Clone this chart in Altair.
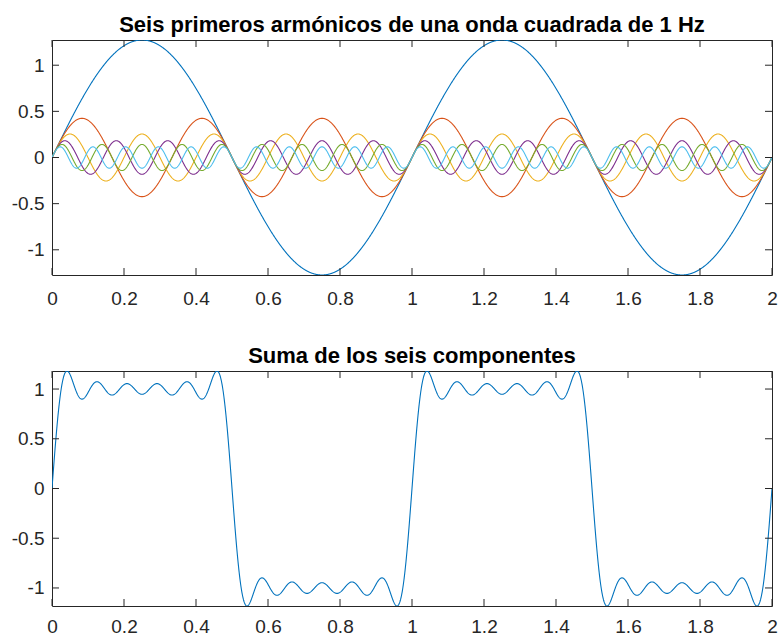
import numpy as np
import pandas as pd
import altair as alt

# Square wave of 1 Hz: first six odd harmonics (4/pi) * sin(2*pi*n*f*t) / n
freq_hz = 1.0
harmonic_orders = [1, 3, 5, 7, 9, 11]
harmonic_keys = ["h01", "h03", "h05", "h07", "h09", "h11"]
harmonic_colors = ["#0072BD", "#D95319", "#EDB120", "#7E2F8E", "#77AC30", "#4DBEEE"]

x_ticks = [0, 0.2, 0.4, 0.6, 0.8, 1, 1.2, 1.4, 1.6, 1.8, 2]
y_ticks = [-1, -0.5, 0, 0.5, 1]

title_top = "Seis primeros armónicos de una onda cuadrada de 1 Hz"
title_bottom = "Suma de los seis componentes"

t = np.linspace(0, 2, 2401)
rows = []
total = np.zeros_like(t)
for n, key in zip(harmonic_orders, harmonic_keys):
    comp = 4 / np.pi * np.sin(2 * np.pi * n * freq_hz * t) / n
    total += comp
    rows.append(pd.DataFrame({"t": t, "v": comp, "h": key}))
harm_df = pd.concat(rows, ignore_index=True)
sum_df = pd.DataFrame({"t": t, "v": total})

amp = 4 / np.pi
top_domain = [-amp, amp]
bot_domain = [float(total.min()), float(total.max())]

W, H = 720, 235
TICK = 7
INK = "#262626"
FONT = "Liberation Sans"

xt_df = pd.DataFrame({"v": x_ticks})
yt_df = pd.DataFrame({"v": y_ticks})

y_axis = alt.Axis(values=y_ticks, labelExpr="'' + datum.value", labelFlush=False)


def panel(line_layer, ydom, title, xpad):
    xs = alt.Scale(domain=[0, 2], nice=False, zero=False)
    ys = alt.Scale(domain=ydom, nice=False, zero=False)
    x_axis = alt.Axis(values=x_ticks, labelExpr="'' + datum.value",
                      labelPadding=xpad, labelFlush=False)
    rule = dict(color=INK, strokeWidth=1)
    X = lambda f: alt.X(f, scale=xs, title=None, axis=x_axis)
    Y = lambda f: alt.Y(f, scale=ys, title=None, axis=y_axis)
    left = alt.Chart(yt_df).mark_rule(**rule).encode(
        y=Y("v:Q"), x=alt.value(0), x2=alt.value(TICK))
    right = alt.Chart(yt_df).mark_rule(**rule).encode(
        y=Y("v:Q"), x=alt.value(W - TICK), x2=alt.value(W))
    top = alt.Chart(xt_df).mark_rule(**rule).encode(
        x=X("v:Q"), y=alt.value(0), y2=alt.value(TICK))
    bottom = alt.Chart(xt_df).mark_rule(**rule).encode(
        x=X("v:Q"), y=alt.value(H - TICK), y2=alt.value(H))
    lines = line_layer.encode(x=X("t:Q"), y=Y("v:Q"))
    return alt.layer(lines, left, right, top, bottom).properties(
        width=W, height=H,
        title=alt.TitleParams(title, font=FONT, fontSize=22, fontWeight="bold",
                              color="#000000", offset=3),
    )


top_lines = alt.Chart(harm_df).mark_line(strokeWidth=1.1, clip=True).encode(
    color=alt.Color("h:N", scale=alt.Scale(domain=harmonic_keys, range=harmonic_colors),
                    legend=None),
    order=alt.Order("t:Q"),
)
bot_lines = alt.Chart(sum_df).mark_line(strokeWidth=1.1, clip=True, color="#0072BD")

chart = alt.vconcat(
    panel(top_lines, top_domain, title_top, 14),
    panel(bot_lines, bot_domain, title_bottom, 11),
    spacing=35,
).properties(
    padding={"left": 10, "top": 13, "right": 0, "bottom": 0},
    background="white",
).configure_view(
    stroke=INK, strokeWidth=1,
).configure_axis(
    domain=False, ticks=False, grid=False,
    labelFont=FONT, labelFontSize=19, labelColor=INK, labelPadding=8,
).configure_title(anchor="middle")

chart.save("out.html", embed_options={"renderer": "svg", "actions": False})
